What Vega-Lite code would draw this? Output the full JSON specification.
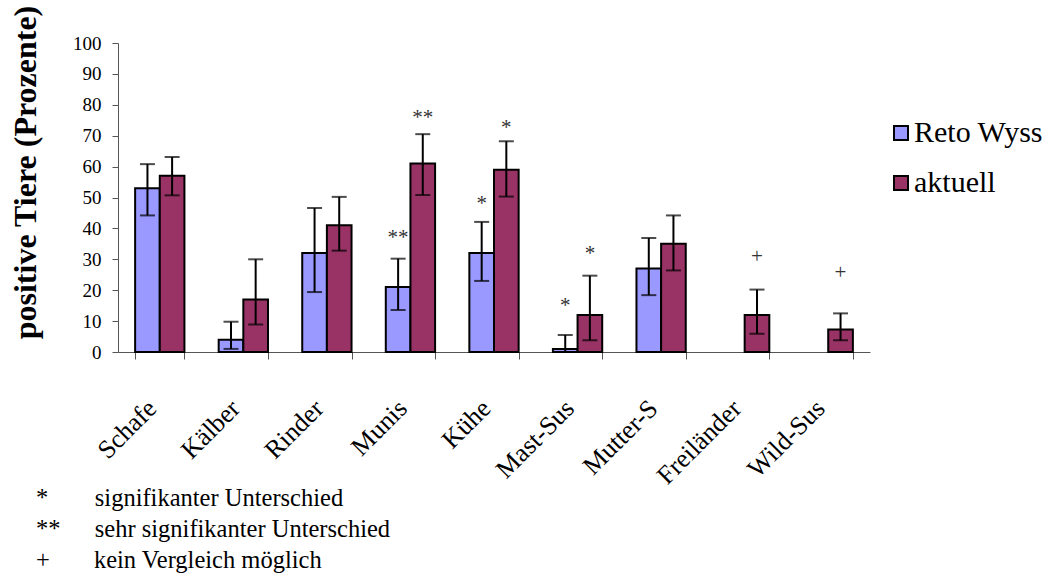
{
  "$schema": "https://vega.github.io/schema/vega-lite/v6.json",
  "autosize": "none",
  "width": 752,
  "height": 309,
  "padding": {"left": 118, "top": 43, "right": 179, "bottom": 226},
  "background": "white",
  "title": {
    "text": ["*\u2003\u2002\u2009\u2009signifikanter Unterschied", "**\u2003\u2009\u2009sehr signifikanter Unterschied", "+\u2003\u2009\u2009\u2009\u2009kein Vergleich möglich"],
    "orient": "bottom",
    "anchor": "start",
    "frame": "group",
    "dx": -82,
    "font": "Liberation Serif",
    "fontSize": 24.5,
    "fontWeight": "normal",
    "color": "black",
    "lineHeight": 31,
    "offset": -2
  },
  "data": {
    "values": [
      {"Tierart": "Schafe", "Gruppe": "Reto Wyss", "Wert": 53, "Unten": 44.2, "Oben": 60.8},
      {"Tierart": "Schafe", "Gruppe": "aktuell", "Wert": 57, "Unten": 50.7, "Oben": 63.1},
      {"Tierart": "Kälber", "Gruppe": "Reto Wyss", "Wert": 4, "Unten": 1, "Oben": 9.8},
      {"Tierart": "Kälber", "Gruppe": "aktuell", "Wert": 17, "Unten": 8.9, "Oben": 30},
      {"Tierart": "Rinder", "Gruppe": "Reto Wyss", "Wert": 32, "Unten": 19.4, "Oben": 46.6},
      {"Tierart": "Rinder", "Gruppe": "aktuell", "Wert": 41, "Unten": 32.8, "Oben": 50.2},
      {"Tierart": "Munis", "Gruppe": "Reto Wyss", "Wert": 21, "Unten": 13.6, "Oben": 30.2, "Sig": "**", "SigPos": 37},
      {"Tierart": "Munis", "Gruppe": "aktuell", "Wert": 61, "Unten": 50.8, "Oben": 70.5, "Sig": "**", "SigPos": 75.8},
      {"Tierart": "Kühe", "Gruppe": "Reto Wyss", "Wert": 32, "Unten": 23, "Oben": 42.1, "Sig": "*", "SigPos": 48},
      {"Tierart": "Kühe", "Gruppe": "aktuell", "Wert": 59, "Unten": 50.3, "Oben": 68.2, "Sig": "*", "SigPos": 72.5},
      {"Tierart": "Mast-Sus", "Gruppe": "Reto Wyss", "Wert": 1, "Unten": 0, "Oben": 5.5, "Sig": "*", "SigPos": 15},
      {"Tierart": "Mast-Sus", "Gruppe": "aktuell", "Wert": 12, "Unten": 3.8, "Oben": 24.7, "Sig": "*", "SigPos": 31.7},
      {"Tierart": "Mutter-S", "Gruppe": "Reto Wyss", "Wert": 27, "Unten": 18.4, "Oben": 36.9},
      {"Tierart": "Mutter-S", "Gruppe": "aktuell", "Wert": 35, "Unten": 26.4, "Oben": 44.2},
      {"Tierart": "Freiländer", "Gruppe": "aktuell", "Wert": 12, "Unten": 5.9, "Oben": 20.2, "Sig": "+", "SigPos": 30.7},
      {"Tierart": "Wild-Sus", "Gruppe": "aktuell", "Wert": 7.3, "Unten": 3.8, "Oben": 12.5, "Sig": "+", "SigPos": 25.5}
    ]
  },
  "encoding": {
    "x": {
      "field": "Tierart",
      "type": "nominal",
      "sort": null,
      "scale": {"domain": ["Schafe", "Kälber", "Rinder", "Munis", "Kühe", "Mast-Sus", "Mutter-S", "Freiländer", "Wild-Sus"], "paddingInner": 0.41, "paddingOuter": 0.205},
      "axis": {
        "title": null,
        "labelAngle": -45,
        "labelAlign": "right",
        "labelBaseline": "middle",
        "labelPadding": 45,
        "labelOffset": -8,
        "labelLimit": 200,
        "labelOverlap": false,
        "tickBand": "extent"
      }
    },
    "xOffset": {
      "field": "Gruppe",
      "type": "nominal",
      "scale": {"domain": ["Reto Wyss", "aktuell"], "paddingInner": 0, "paddingOuter": 0}
    }
  },
  "resolve": {"axis": {"y": "independent"}},
  "layer": [
    {
      "mark": {"type": "bar", "stroke": "black", "strokeWidth": 2},
      "encoding": {
        "y": {
          "field": "Wert",
          "type": "quantitative",
          "scale": {"domain": [0, 100], "nice": false},
          "axis": {
            "title": "positive Tiere (Prozente)",
            "titleX": -83,
            "titleY": 129,
            "titleAlign": "center",
            "titleBaseline": "alphabetic",
            "values": [0, 10, 20, 30, 40, 50, 60, 70, 80, 90, 100],
            "labelOverlap": false
          }
        },
        "color": {
          "field": "Gruppe",
          "type": "nominal",
          "scale": {"domain": ["Reto Wyss", "aktuell"], "range": ["#9999FF", "#993366"]},
          "legend": {
            "title": null,
            "orient": "none",
            "legendX": 768,
            "legendY": 75
          }
        }
      }
    },
    {
      "mark": {"type": "rule", "color": "black", "strokeWidth": 2},
      "encoding": {
        "y": {"field": "Unten", "type": "quantitative", "axis": null},
        "y2": {"field": "Oben"}
      }
    },
    {
      "mark": {"type": "tick", "color": "black", "thickness": 2, "size": 15, "orient": "horizontal"},
      "encoding": {"y": {"field": "Unten", "type": "quantitative", "axis": null}}
    },
    {
      "mark": {"type": "tick", "color": "black", "thickness": 2, "size": 15, "orient": "horizontal"},
      "encoding": {"y": {"field": "Oben", "type": "quantitative", "axis": null}}
    },
    {
      "transform": [{"filter": "datum.Sig != null"}],
      "mark": {"type": "text", "font": "Liberation Serif", "fontSize": 21, "color": "#333333", "baseline": "middle"},
      "encoding": {
        "y": {"field": "SigPos", "type": "quantitative", "axis": null},
        "text": {"field": "Sig"}
      }
    }
  ],
  "config": {
    "font": "Liberation Serif",
    "view": {"stroke": null},
    "axis": {
      "grid": false,
      "labelFont": "Liberation Serif",
      "labelColor": "black",
      "titleFont": "Liberation Serif",
      "titleColor": "black",
      "tickColor": "#555555",
      "domainColor": "#555555",
      "domainWidth": 1
    },
    "axisX": {
      "labelFontSize": 26,
      "tickSize": 7
    },
    "axisY": {
      "labelFontSize": 19,
      "labelPadding": 11,
      "tickSize": 6,
      "titleFontSize": 32,
      "titleFontWeight": "bold"
    },
    "legend": {
      "symbolType": "square",
      "symbolSize": 196,
      "symbolStrokeColor": "black",
      "symbolStrokeWidth": 2,
      "symbolOpacity": 1,
      "labelFont": "Liberation Serif",
      "labelFontSize": 30,
      "labelColor": "black",
      "labelOffset": -2,
      "rowPadding": 20
    }
  }
}
